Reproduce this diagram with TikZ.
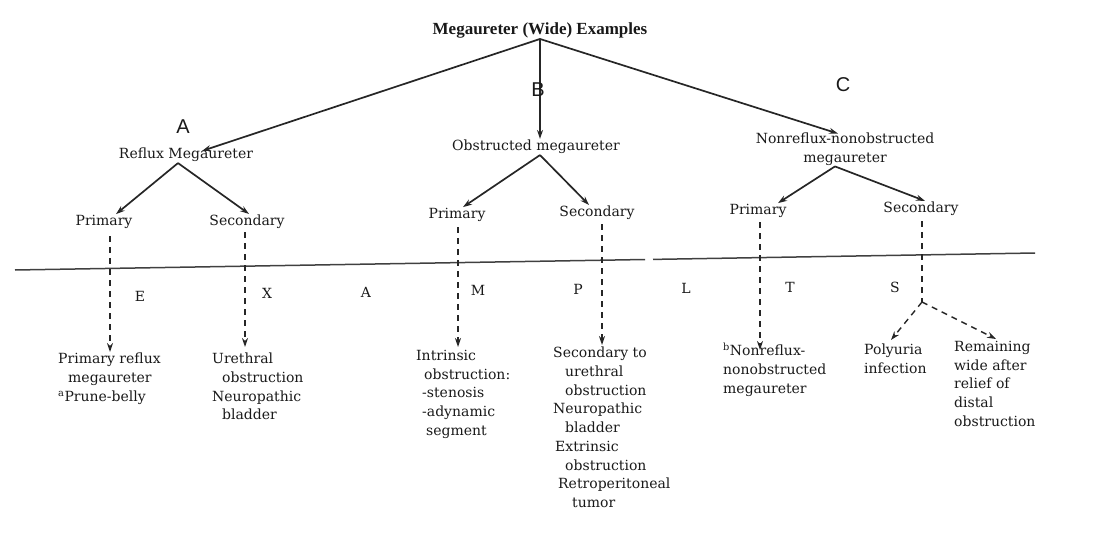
\documentclass[tikz,border=0pt]{standalone}
\usepackage{fontspec}
\setmainfont{DejaVu Serif}
\newfontfamily\sansf{Liberation Sans}
\newfontfamily\titlef{Liberation Serif}
\usetikzlibrary{arrows.meta}
\begin{document}
\begin{tikzpicture}[x=1pt,y=-1pt,
  every node/.style={text=black!90},
  txt/.style={font=\fontsize{14}{18.7}\selectfont, inner sep=0pt, align=left, anchor=north west},
  lbl/.style={font=\fontsize{14}{18.7}\selectfont, inner sep=1pt},
  letter/.style={font=\fontsize{14}{16}\selectfont, inner sep=0pt},
  big/.style={font=\sansf\fontsize{20}{22}\selectfont, inner sep=0pt},
  solidarrow/.style={draw=black!85, line width=1.7pt, -{Stealth[length=9pt,width=6pt]}},
  dasharrow/.style={draw=black!85, line width=1.4pt, dash pattern=on 6pt off 5pt, -{Stealth[length=9pt,width=6pt]}},
  dashline/.style={draw=black!85, line width=1.4pt, dash pattern=on 6pt off 5pt},
  baseline/.style={draw=black!75, line width=1.5pt}
]
\useasboundingbox (0,0) rectangle (1105,538);

% title and group labels
\node[font=\titlef\bfseries\fontsize{17}{19}\selectfont, inner sep=1pt] (top) at (540,30) {Megaureter (Wide) Examples};
\node[lbl] (ref) at (186,155) {Reflux Megaureter};
\node[lbl] (obs) at (536,147) {Obstructed megaureter};
\node[lbl, align=center] (non) at (845,149) {Nonreflux-nonobstructed\\megaureter};

\draw[solidarrow] (top.south) -- ([xshift=16pt,yshift=-4pt]ref.north);
\draw[solidarrow] (top.south) -- ([xshift=4pt]obs.north);
\draw[solidarrow] (top.south) -- ([xshift=-7pt,yshift=-2pt]non.north);

\node[big] (A) at (183,127) {A};
\node[big] (B) at (538,90) {B};
\node[big] (C) at (843,85) {C};

% second level
\node[lbl] (p1) at (104,222) {Primary};
\node[lbl] (s1) at (247,222) {Secondary};
\node[lbl] (p2) at (457,215) {Primary};
\node[lbl] (s2) at (597,213) {Secondary};
\node[lbl] (p3) at (758,211) {Primary};
\node[lbl] (s3) at (921,209) {Secondary};

\draw[solidarrow] ([xshift=-8pt]ref.south) -- ([xshift=12pt]p1.north);
\draw[solidarrow] ([xshift=-8pt]ref.south) -- ([xshift=2pt]s1.north);
\draw[solidarrow] ([xshift=4pt]obs.south) -- ([xshift=6pt]p2.north);
\draw[solidarrow] ([xshift=4pt]obs.south) -- ([xshift=-8pt]s2.north);
\draw[solidarrow] ([xshift=-10pt]non.south) -- ([xshift=20pt]p3.north);
\draw[solidarrow] ([xshift=-10pt]non.south) -- ([xshift=4pt]s3.north);

% horizontal line
\coordinate (L0) at (15,270);
\coordinate (L1) at (645,259.5);
\coordinate (L2) at (653,259.4);
\coordinate (L3) at (1035,253);
\draw[baseline] (L0) -- (L1);
\draw[baseline] (L2) -- (L3);

% letters on the line
\node[letter] (lE) at (140,296) {E};
\node[letter] (lX) at (267,293) {X};
\node[letter] (lA) at (366,292) {A};
\node[letter] (lM) at (478,290) {M};
\node[letter] (lP) at (578,289) {P};
\node[letter] (lL) at (686,288) {L};
\node[letter] (lT) at (790,287) {T};
\node[letter] (lS) at (895,287) {S};

% bottom texts
\node[txt] (t1) at (58,353) {Primary reflux\\\hspace*{10pt}megaureter\\\textsuperscript{a}Prune-belly};
\node[txt] (t2) at (212,353) {Urethral\\\hspace*{10pt}obstruction\\Neuropathic\\\hspace*{10pt}bladder};
\node[txt] (t3) at (416,350) {Intrinsic\\\hspace*{8pt}obstruction:\\\hspace*{6pt}-stenosis\\\hspace*{6pt}-adynamic\\\hspace*{10pt}segment};
\node[txt] (t4) at (553,347) {Secondary to\\\hspace*{12pt}urethral\\\hspace*{12pt}obstruction\\Neuropathic\\\hspace*{12pt}bladder\\\hspace*{2pt}Extrinsic\\\hspace*{12pt}obstruction\\\hspace*{5pt}Retroperitoneal\\\hspace*{19pt}tumor};
\node[txt] (t5) at (723,343) {\textsuperscript{b}Nonreflux-\\nonobstructed\\megaureter};
\node[txt] (t6) at (864,344) {Polyuria\\infection};
\node[txt] (t7) at (954,341) {Remaining\\wide after\\relief of\\distal\\obstruction};

% dashed connectors
\coordinate (d1) at (110,236); \coordinate (e1) at (110,352);
\coordinate (d2) at (245,232); \coordinate (e2) at (245,347);
\coordinate (d3) at (458,227); \coordinate (e3) at (458,347);
\coordinate (d4) at (602,224); \coordinate (e4) at (602,345);
\coordinate (d5) at (760,222); \coordinate (e5) at (760,350);
\coordinate (d6) at (922,221); \coordinate (f6) at (922,302);
\coordinate (e6) at (891,340); \coordinate (g6) at (996,339);
\draw[dasharrow] (d1) -- (e1);
\draw[dasharrow] (d2) -- (e2);
\draw[dasharrow] (d3) -- (e3);
\draw[dasharrow] (d4) -- (e4);
\draw[dasharrow] (d5) -- (e5);
\draw[dashline] (d6) -- (f6);
\draw[dasharrow] (f6) -- (e6);
\draw[dasharrow] (f6) -- (g6);
\end{tikzpicture}
\end{document}
